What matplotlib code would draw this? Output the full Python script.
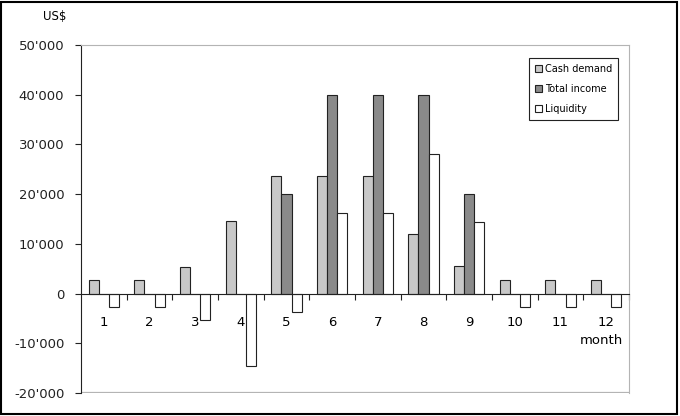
import matplotlib.pyplot as plt
import matplotlib.ticker as mticker
from matplotlib.patches import Rectangle
import numpy as np

# data (US$)
months = ['1', '2', '3', '4', '5', '6', '7', '8', '9', '10', '11', '12']
cash_demand = [2800, 2800, 5400, 14600, 23700, 23700, 23700, 11900, 5600, 2800, 2800, 2800]
total_income = [0, 0, 0, 0, 20000, 40000, 40000, 40000, 20000, 0, 0, 0]
liquidity = [-2800, -2800, -5400, -14600, -3700, 16300, 16300, 28100, 14400, -2800, -2800, -2800]

fig = plt.figure(figsize=(6.8, 4.16), dpi=100)
ax = fig.add_axes([81/680, 1-393/416, 548/680, 348/416])

x = np.arange(len(months))
w = 1/4.5
ax.bar(x - w, cash_demand, w, color='#c8c8c8', edgecolor='#222222', linewidth=0.8, label='Cash demand')
ax.bar(x, total_income, w, color='#8a8a8a', edgecolor='#222222', linewidth=0.8, label='Total income')
ax.bar(x + w, liquidity, w, color='white', edgecolor='#222222', linewidth=0.8, label='Liquidity')

ax.set_xlim(-0.5, 11.5)
ax.set_ylim(-20000, 50000)

# y axis
ax.yaxis.set_major_locator(mticker.MultipleLocator(10000))
ax.yaxis.set_major_formatter(mticker.FuncFormatter(
    lambda v, p: '0' if v == 0 else f"{int(v):,}".replace(',', "'")))
ax.tick_params(axis='y', direction='out', length=4, width=0.8, pad=8, labelsize=9.5, colors='#222222')

# x axis on zero line, ticks at category boundaries, labels at centers
ax.spines['bottom'].set_position(('data', 0))
ax.spines['bottom'].set_color('#222222')
ax.xaxis.set_major_locator(mticker.FixedLocator(np.arange(0.5, 12, 1)))
ax.xaxis.set_major_formatter(mticker.NullFormatter())
ax.xaxis.set_minor_locator(mticker.FixedLocator(x))
ax.xaxis.set_minor_formatter(mticker.FixedFormatter(months))
ax.tick_params(axis='x', which='major', direction='out', length=4, width=0.8, colors='#222222')
ax.tick_params(axis='x', which='minor', length=0, pad=16, labelsize=9.5)

ax.spines['left'].set_color('#222222')
ax.spines['top'].set_color('#b4b4b4')
ax.spines['right'].set_color('#b4b4b4')
ax.axhline(-20000, color='#b4b4b4', linewidth=1.6, zorder=0)

leg = ax.legend(loc='upper right', bbox_to_anchor=(0.98, 0.963), borderaxespad=0,
                fontsize=7, handlelength=0.7, handleheight=0.7, handletextpad=0.3,
                borderpad=0.6, labelspacing=1.05, fancybox=False, framealpha=1)
leg.get_frame().set_edgecolor('#222222')
leg.get_frame().set_linewidth(0.8)

fig.text(55/680, 1-16/416, 'US$', ha='center', va='center', fontsize=8.5)
fig.text(601/680, 1-341/416, 'month', ha='center', va='center', fontsize=9.5)

fig.patches.append(Rectangle((0.002, 0.004), 0.994, 0.992, transform=fig.transFigure,
                             fill=False, edgecolor='black', linewidth=1.5))

fig.savefig('out.png', dpi=100)
